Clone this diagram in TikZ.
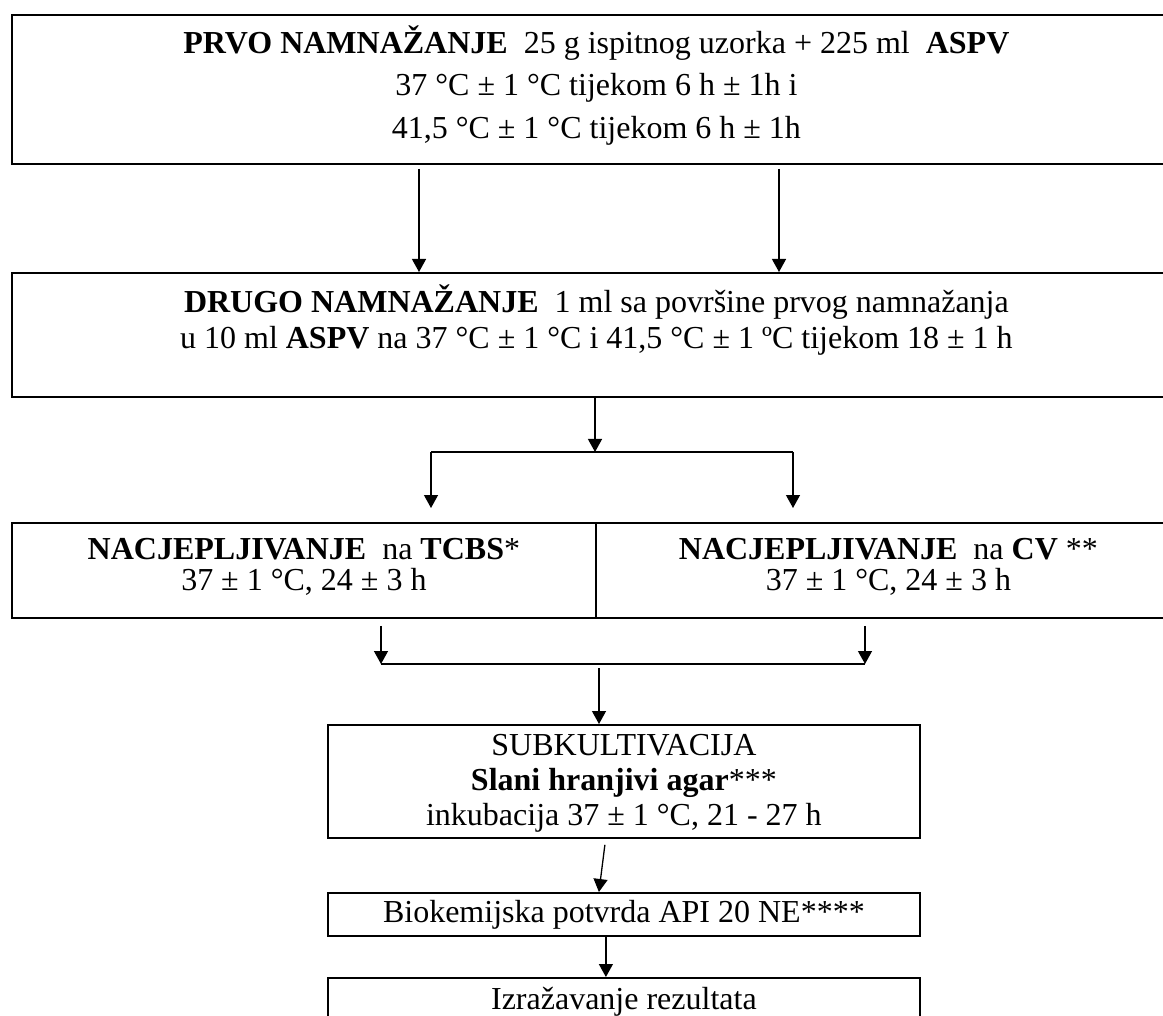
\documentclass[tikz,border=0pt]{standalone}
\usepackage{fontspec}
\setmainfont{Liberation Serif}
\usetikzlibrary{positioning,arrows.meta,calc}

\begin{document}
\begin{tikzpicture}[x=0.5pt,y=-0.5pt,
  box/.style={draw, line width=0.9pt, inner sep=0pt, anchor=north west},
  txt/.style={align=center, inner sep=0pt, anchor=north},
  arr/.style={-{Triangle[length=6.5pt,width=7pt]}, line width=0.65pt},
  lin/.style={line width=0.8pt}]
  \useasboundingbox (0,0) rectangle (1163,1016);

  % Draw the boxes
  \node[box, minimum width=584.5pt, minimum height=74.5pt] (prvo) at (11,14) {};
  \node[box, minimum width=584.5pt, minimum height=62pt] (drugo) at (11,272) {};
  \node[box, minimum width=292pt, minimum height=47.5pt] (tcbs) at (11,522) {};
  \node[box, minimum width=292.5pt, minimum height=47.5pt] (cv) at (595,522) {};
  \node[box, minimum width=296pt, minimum height=56.5pt] (sub) at (327,724) {};
  \node[box, minimum width=296pt, minimum height=21.5pt] (bio) at (327,892) {};
  \node[box, minimum width=296pt, minimum height=30pt] (izr) at (327,977) {};

  % Texts in the boxes
  \node[txt, font=\fontsize{16}{21.25}\selectfont] (tprvo) at ($(prvo.north)+(0,11)$)
    {\textbf{PRVO NAMNAŽANJE}\ \ 25 g ispitnog uzorka + 225 ml\ \ \textbf{ASPV}\\
     37 °C ± 1 °C tijekom 6 h ± 1h i\\
     41,5 °C ± 1 °C tijekom 6 h ± 1h};
  \node[txt, font=\fontsize{16}{18}\selectfont] (tdrugo) at ($(drugo.north)+(0,12)$)
    {\textbf{DRUGO NAMNAŽANJE}\ \ 1 ml sa površine prvog namnažanja\\
     u 10 ml \textbf{ASPV} na 37 °C ± 1 °C i 41,5 °C ± 1 ºC tijekom 18 ± 1 h};
  \node[txt, font=\fontsize{16}{15.5}\selectfont] (ttcbs) at ($(tcbs.north)+(0,16)$)
    {\textbf{NACJEPLJIVANJE}\ \ na \textbf{TCBS}*\\ 37 ± 1 °C, 24 ± 3 h};
  \node[txt, font=\fontsize{16}{15.5}\selectfont] (tcv) at ($(cv.north)+(0,16)$)
    {\textbf{NACJEPLJIVANJE}\ \ na \textbf{CV} **\\ 37 ± 1 °C, 24 ± 3 h};
  \node[txt, font=\fontsize{16}{17.5}\selectfont] (tsub) at ($(sub.north)+(0,10)$)
    {SUBKULTIVACIJA\\ \textbf{Slani hranjivi agar}***\\ inkubacija 37 ± 1 °C, 21 - 27 h};
  \node[txt, anchor=center, font=\fontsize{16}{18}\selectfont] (tbio) at (bio) {Biokemijska potvrda API 20 NE****};
  \node[txt, font=\fontsize{16}{18}\selectfont] (tizr) at ($(izr.north)+(0,10)$) {Izražavanje rezultata};

  % Arrows from the first to the second box
  \coordinate (a1) at (419,0);
  \coordinate (a2) at (779,0);
  \draw[arr] ($(prvo.south -| a1)+(0,4)$) -- (drugo.north -| a1);
  \draw[arr] ($(prvo.south -| a2)+(0,4)$) -- (drugo.north -| a2);

  % Split to the two plates
  \coordinate (sL) at (431,452);
  \coordinate (sM) at (595,452);
  \coordinate (sR) at (793,452);
  \draw[arr] (drugo.south -| sM) -- (sM);
  \draw[lin] (sL) -- (sR);
  \draw[arr] (sL) -- ($(tcbs.north -| sL)+(0,-14)$);
  \draw[arr] (sR) -- ($(cv.north -| sR)+(0,-14)$);

  % Join the plates again
  \coordinate (jL) at (381,664);
  \coordinate (jM) at (599,664);
  \coordinate (jR) at (865,664);
  \draw[arr] ($(tcbs.south -| jL)+(0,7)$) -- (jL);
  \draw[arr] ($(cv.south -| jR)+(0,7)$) -- (jR);
  \draw[lin] (jL) -- (jR);
  \draw[arr] ($(jM)+(0,4)$) -- (sub.north -| jM);

  % Down to the results
  \draw[arr] ($(sub.south)+(-19,6)$) -- ($(bio.north)+(-25,0)$);
  \draw[arr] ($(bio.south)+(-18,0)$) -- ($(izr.north)+(-18,0)$);
\end{tikzpicture}
\end{document}
